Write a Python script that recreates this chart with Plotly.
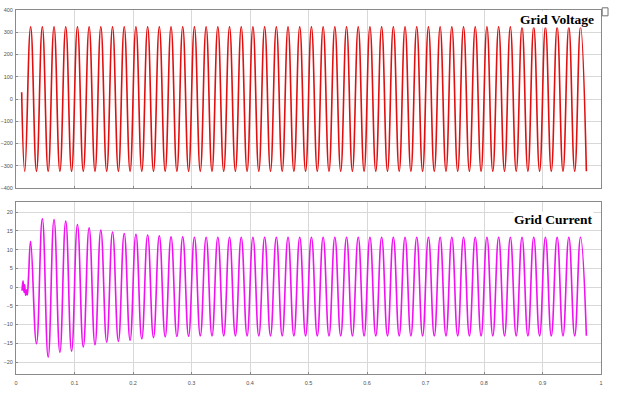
import numpy as np
import plotly.graph_objects as go
from plotly.subplots import make_subplots

# ---------------- data ----------------
# Grid voltage: trace starts just before t=0.01 s, then alternating troughs/peaks
V_START_T = 0.0097
V_START_V = 30
V_FIRST_EXT_T = 0.015      # time of first trough (s)
V_HALF_PERIOD = 0.01       # spacing between successive extrema (s)
V_EXTREMA = [
    -325, 325, -325, 325, -325, 325, -325, 325, -325, 325, -325, 325,
    -325, 325, -325, 325, -325, 325, -325, 325, -325, 325, -325, 325,
    -325, 325, -325, 325, -325, 325, -325, 325, -325, 325, -325, 325,
    -325, 325, -325, 325, -325, 325, -325, 325, -325, 325, -325, 325,
    -325, 325, -325, 325, -325, 325, -325, 325, -325, 325, -325, 325,
    -325, 325, -325, 325, -325, 325, -325, 325, -325, 325, -325, 325,
    -325, 325, -325, 325, -325, 325, -325, 325, -325, 325, -325, 325,
    -325, 325, -325, 325, -325, 325, -325, 325, -325, 325, -325, 325,
    -325,
]

# Grid current: small noisy start, then transient and steady oscillation
I_EARLY_T = [0.0103, 0.0120, 0.0137, 0.0148, 0.0165, 0.0183, 0.0194, 0.0215]
I_EARLY_V = [-1.0, 1.7, -1.4, 0.6, -2.2, -0.7, -2.1, 3.0]
I_FIRST_EXT_T = 0.025
I_HALF_PERIOD = 0.01
I_EXTREMA = [
    12.2, -15.1, 18.2, -18.7, 18.0, -17.4, 17.6, -17.1, 16.7, -16.0,
    15.8, -15.4, 15.2, -14.7, 14.7, -14.5, 14.3, -14.2, 14.1, -13.8,
    13.9, -13.5, 13.7, -13.3, 13.4, -13.2, 13.4, -13.1, 13.3, -13.0,
    13.3, -13.0, 13.3, -13.0, 13.3, -13.0, 13.3, -13.0, 13.3, -13.0,
    13.3, -13.0, 13.3, -13.0, 13.3, -13.0, 13.3, -13.0, 13.3, -13.0,
    13.3, -13.0, 13.3, -13.0, 13.3, -13.0, 13.3, -13.0, 13.3, -13.0,
    13.3, -13.0, 13.3, -13.0, 13.3, -13.0, 13.3, -13.0, 13.3, -13.0,
    13.3, -13.0, 13.3, -13.0, 13.3, -13.0, 13.3, -13.0, 13.3, -13.0,
    13.3, -13.0, 13.3, -13.0, 13.3, -13.0, 13.3, -13.0, 13.3, -13.0,
    13.3, -13.0, 13.3, -13.0, 13.3, -13.0,
]

X_TICKS = [0, 0.1, 0.2, 0.3, 0.4, 0.5, 0.6, 0.7, 0.8, 0.9, 1]
X_TICK_LABELS = ["0", "0.1", "0.2", "0.3", "0.4", "0.5", "0.6", "0.7", "0.8", "0.9", "1"]
V_TICKS = [-400, -300, -200, -100, 0, 100, 200, 300, 400]
I_TICKS = [-20, -15, -10, -5, 0, 5, 10, 15, 20]
TITLE_V = "Grid Voltage"
TITLE_I = "Grid Current"

# ---------------- build series ----------------
v_t = [V_START_T] + list(V_FIRST_EXT_T + V_HALF_PERIOD * np.arange(len(V_EXTREMA)))
v_v = [V_START_V] + V_EXTREMA
i_t = I_EARLY_T + list(I_FIRST_EXT_T + I_HALF_PERIOD * np.arange(len(I_EXTREMA)))
i_v = I_EARLY_V + I_EXTREMA

fig = make_subplots(rows=2, cols=1, vertical_spacing=0.04)

fig.add_trace(go.Scatter(x=v_t, y=v_v, mode="lines",
                         line=dict(color="#e01010", width=1.6, shape="spline", smoothing=1.3),
                         showlegend=False), row=1, col=1)
fig.add_trace(go.Scatter(x=i_t, y=i_v, mode="lines",
                         line=dict(color="#f010f0", width=1.6, shape="spline", smoothing=1.3),
                         showlegend=False), row=2, col=1)

axis_common = dict(
    showline=True, mirror=True, linecolor="#8a8a8a", linewidth=1,
    showgrid=True, gridcolor="#d8d8d8", gridwidth=1,
    zeroline=False, ticks="inside", ticklen=2, tickcolor="#8a8a8a",
    tickfont=dict(family="Liberation Sans, Arial", size=5.5, color="#505050"),
    automargin=False,
)

fig.update_xaxes(range=[0, 1], tickvals=X_TICKS, ticktext=X_TICK_LABELS, **axis_common)
fig.update_xaxes(showticklabels=False, row=1, col=1)
fig.update_yaxes(range=[-400, 400], tickvals=V_TICKS, row=1, col=1, **axis_common)
fig.update_yaxes(range=[-23.2, 22.7], tickvals=I_TICKS, row=2, col=1, **axis_common)

fig.update_layout(
    width=621, height=398,
    margin=dict(l=16, r=20, t=10, b=24),
    paper_bgcolor="white", plot_bgcolor="white",
    template="none",
    yaxis=dict(domain=[0.511, 1.0]),
    yaxis2=dict(domain=[0.0, 0.4725]),
    xaxis=dict(domain=[0, 1]),
    xaxis2=dict(domain=[0, 1]),
)
fig.update_xaxes(ticklabelstandoff=3)
fig.update_yaxes(ticklabelstandoff=1)

fig.add_annotation(text=f"<b>{TITLE_V}</b>", xref="x domain", yref="y domain",
                   x=0.99, y=0.944, xanchor="right", yanchor="middle", showarrow=False,
                   font=dict(family="Liberation Serif, Times New Roman", size=13.5, color="black"),
                   bgcolor="white", borderpad=0)
fig.add_annotation(text=f"<b>{TITLE_I}</b>", xref="x2 domain", yref="y2 domain",
                   x=0.988, y=0.901, xanchor="right", yanchor="middle", showarrow=False,
                   font=dict(family="Liberation Serif, Times New Roman", size=13.5, color="black"),
                   bgcolor="white", borderpad=0)

# small window icon at top-right corner
fig.add_shape(type="rect", xref="paper", yref="paper", x0=1.002, x1=1.012, y0=0.984, y1=1.006,
              line=dict(color="#707070", width=1), fillcolor="white")

fig.write_html("out.html", post_script="document.body.style.margin='0';",
               config={"displayModeBar": False})
